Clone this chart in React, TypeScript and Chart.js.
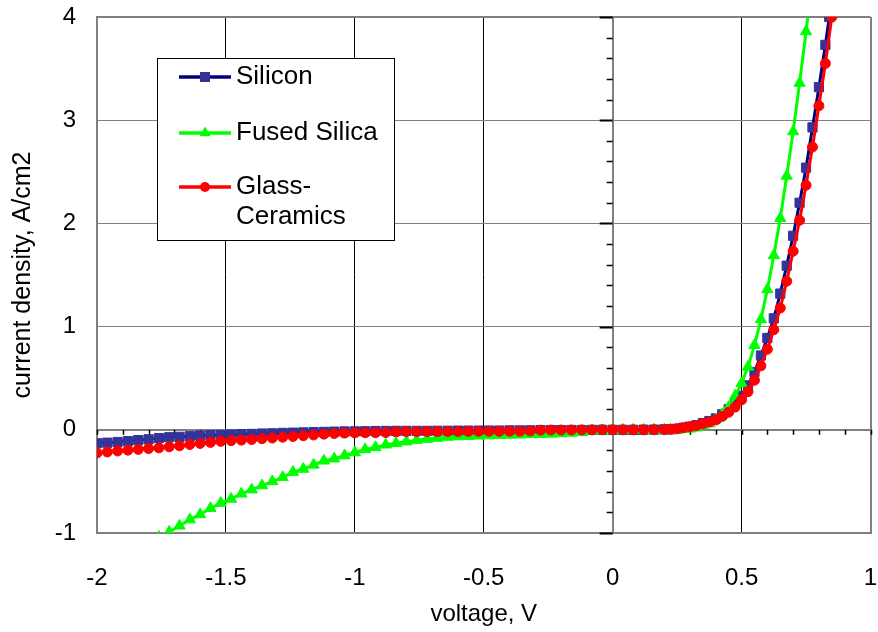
import React, { useEffect, useRef } from 'react';
import { Chart, registerables } from 'chart.js';

Chart.register(...registerables);

const FONT = "'Liberation Sans', Arial, Helvetica, sans-serif";

// ---- data ----
const sweepLow = [
  -2.0, -1.96, -1.92, -1.88, -1.84, -1.8, -1.76, -1.72, -1.68, -1.64,
  -1.6, -1.56, -1.52, -1.48, -1.44, -1.4, -1.36, -1.32, -1.28, -1.24,
  -1.2, -1.16, -1.12, -1.08, -1.04, -1.0, -0.96, -0.92, -0.88, -0.84,
  -0.8, -0.76, -0.72, -0.68, -0.64, -0.6, -0.56, -0.52, -0.48, -0.44,
  -0.4, -0.36, -0.32, -0.28, -0.24, -0.2, -0.16, -0.12, -0.08, -0.04,
  0.0, 0.04, 0.08, 0.12, 0.16, 0.2,
];

const siliconLow = [
  -0.13, -0.125, -0.118, -0.11, -0.1, -0.092, -0.08, -0.072, -0.068, -0.062,
  -0.056, -0.052, -0.05, -0.046, -0.042, -0.04, -0.036, -0.034, -0.03, -0.028,
  -0.025, -0.022, -0.02, -0.018, -0.016, -0.015, -0.014, -0.012, -0.011, -0.01,
  -0.01, -0.01, -0.01, -0.009, -0.009, -0.008, -0.008, -0.008, -0.007, -0.007,
  -0.006, -0.006, -0.005, -0.004, -0.003, -0.003, -0.002, -0.002, -0.001, 0,
  0, 0, 0, 0.001, 0.002, 0.004,
];

const fusedLow = [
  null, null, null, null, null, null, -1.04, -0.99, -0.93, -0.87,
  -0.82, -0.76, -0.71, -0.67, -0.62, -0.58, -0.54, -0.5, -0.46, -0.41,
  -0.38, -0.34, -0.3, -0.28, -0.25, -0.22, -0.19, -0.17, -0.145, -0.13,
  -0.115, -0.1, -0.09, -0.08, -0.07, -0.065, -0.062, -0.058, -0.056, -0.053,
  -0.05, -0.048, -0.045, -0.042, -0.04, -0.035, -0.03, -0.025, -0.01, -0.005,
  0, 0, 0, 0, 0, 0,
];

const glassLow = [
  -0.225, -0.215, -0.205, -0.197, -0.19, -0.182, -0.175, -0.165, -0.155, -0.143,
  -0.132, -0.122, -0.112, -0.105, -0.1, -0.094, -0.086, -0.08, -0.072, -0.065,
  -0.057, -0.05, -0.042, -0.036, -0.032, -0.029, -0.028, -0.028, -0.027, -0.02,
  -0.018, -0.018, -0.017, -0.017, -0.016, -0.016, -0.016, -0.015, -0.015, -0.015,
  -0.014, -0.014, -0.012, -0.003, -0.002, -0.002, -0.002, -0.001, -0.001, 0,
  0, 0, 0, 0, 0.001, 0.003,
];

const siliconHighV = [
  0.225, 0.25, 0.275, 0.3, 0.325, 0.35, 0.375, 0.4, 0.425, 0.45, 0.475, 0.5,
  0.525, 0.55, 0.575, 0.6, 0.625, 0.65, 0.675, 0.7, 0.725, 0.75, 0.775, 0.8,
  0.825, 0.84,
];
const siliconHigh = [
  0.005, 0.01, 0.02, 0.03, 0.045, 0.065, 0.085, 0.11, 0.15, 0.2, 0.26, 0.33,
  0.43, 0.56, 0.72, 0.89, 1.08, 1.32, 1.59, 1.88, 2.2, 2.54, 2.93, 3.32,
  3.73, 4.0,
];

const fusedHighV = [
  0.225, 0.25, 0.275, 0.3, 0.325, 0.35, 0.375, 0.4, 0.425, 0.45, 0.475, 0.5,
  0.525, 0.55, 0.575, 0.6, 0.625, 0.65, 0.675, 0.7, 0.725, 0.75, 0.757,
];
const fusedHigh = [
  0, 0, 0.005, 0.01, 0.02, 0.04, 0.06, 0.1, 0.15, 0.22, 0.33, 0.45,
  0.61, 0.82, 1.07, 1.36, 1.69, 2.05, 2.46, 2.89, 3.36, 3.86, 4.0,
];

const glassHighV = [
  0.225, 0.25, 0.275, 0.3, 0.325, 0.35, 0.375, 0.4, 0.425, 0.45, 0.475, 0.5,
  0.525, 0.55, 0.575, 0.6, 0.625, 0.65, 0.675, 0.7, 0.725, 0.75, 0.775, 0.8,
  0.825, 0.85,
];
const glassHigh = [
  0.005, 0.01, 0.02, 0.03, 0.04, 0.06, 0.075, 0.095, 0.13, 0.17, 0.22, 0.29,
  0.37, 0.48, 0.62, 0.78, 0.97, 1.18, 1.44, 1.73, 2.03, 2.37, 2.74, 3.14,
  3.55, 4.0,
];

const seriesNames = ['Silicon', 'Fused Silica', 'Glass-Ceramics'];
const legendLines = [['Silicon'], ['Fused Silica'], ['Glass-', 'Ceramics']];
const xTickLabels = ['-2', '-1.5', '-1', '-0.5', '0', '0.5', '1'];
const yTickLabels = ['-1', '0', '1', '2', '3', '4'];
const xAxisTitle = 'voltage, V';
const yAxisTitle = 'current density, A/cm2';

function toPoints(xs: number[], ys: (number | null)[]) {
  const out: { x: number; y: number }[] = [];
  xs.forEach((x, i) => {
    const y = ys[i];
    if (y !== null && y !== undefined) out.push({ x, y });
  });
  return out;
}

const siliconPts = [...toPoints(sweepLow, siliconLow), ...toPoints(siliconHighV, siliconHigh)];
const fusedPts = [...toPoints(sweepLow, fusedLow), ...toPoints(fusedHighV, fusedHigh)];
const glassPts = [...toPoints(sweepLow, glassLow), ...toPoints(glassHighV, glassHigh)];

const zeroAxisTicks = {
  id: 'zeroAxisTicks',
  beforeDatasetsDraw(chart: any) {
    const { ctx } = chart;
    const xs = chart.scales.x;
    const ys = chart.scales.y;
    const x0 = xs.getPixelForValue(0);
    const y0 = ys.getPixelForValue(0);
    ctx.save();
    ctx.strokeStyle = '#000';
    ctx.lineWidth = 1.5;
    for (let k = -20; k <= 10; k++) {
      const px = Math.round(xs.getPixelForValue(k / 10)) + 0.5;
      ctx.beginPath();
      ctx.moveTo(px, y0);
      ctx.lineTo(px, y0 + 5);
      ctx.stroke();
    }
    for (let k = -5; k <= 20; k++) {
      const py = Math.round(ys.getPixelForValue(k / 5)) + 0.5;
      const major = k % 5 === 0;
      ctx.lineWidth = major ? 2 : 1.5;
      ctx.beginPath();
      ctx.moveTo(x0 - (major ? 13 : 6), py);
      ctx.lineTo(x0, py);
      ctx.stroke();
    }
    ctx.restore();
  },
};

const boxLegend = {
  id: 'boxLegend',
  afterDraw(chart: any) {
    const { ctx } = chart;
    ctx.save();
    ctx.fillStyle = '#fff';
    ctx.fillRect(157.5, 58.5, 237, 182);
    ctx.strokeStyle = '#000';
    ctx.lineWidth = 1;
    ctx.strokeRect(157.5, 58.5, 237, 182);

    const rows = [
      { ly: 77, base: [84], line: '#000080', mark: '#333399', shape: 'rect' },
      { ly: 133, base: [139.5], line: '#00FF00', mark: '#00FF00', shape: 'tri' },
      { ly: 187, base: [194, 224], line: '#FF0000', mark: '#FF0000', shape: 'circ' },
    ];
    ctx.font = `26px ${FONT}`;
    ctx.textBaseline = 'alphabetic';
    ctx.textAlign = 'left';
    rows.forEach((r, i) => {
      ctx.strokeStyle = r.line;
      ctx.lineWidth = 3.5;
      ctx.beginPath();
      ctx.moveTo(179, r.ly);
      ctx.lineTo(231, r.ly);
      ctx.stroke();
      ctx.fillStyle = r.mark;
      ctx.beginPath();
      if (r.shape === 'rect') {
        ctx.rect(200, r.ly - 5, 10, 10);
      } else if (r.shape === 'tri') {
        ctx.moveTo(205, r.ly - 6.5);
        ctx.lineTo(210.6, r.ly + 3.3);
        ctx.lineTo(199.4, r.ly + 3.3);
        ctx.closePath();
      } else {
        ctx.arc(205, r.ly, 5, 0, Math.PI * 2);
      }
      ctx.fill();
      ctx.fillStyle = '#000';
      legendLines[i].forEach((t, j) => ctx.fillText(t, 236, r.base[j]));
    });
    ctx.restore();
  },
};

const zeroPad = (s: any) => {
  s.paddingTop = 0;
  s.paddingBottom = 0;
  s.paddingLeft = 0;
  s.paddingRight = 0;
};

export default function App() {
  const ref = useRef<HTMLCanvasElement>(null);

  useEffect(() => {
    const canvas = ref.current;
    if (!canvas) return;
    const edgeX = (v: number) => v === -2 || v === 1;
    const edgeY = (v: number) => v === -1 || v === 4;
    const chart = new Chart(canvas, {
      type: 'line',
      data: {
        datasets: [
          {
            label: seriesNames[0],
            data: siliconPts,
            borderColor: '#000080',
            borderWidth: 3,
            pointStyle: 'rect',
            pointRadius: 6.5,
            pointBackgroundColor: '#333399',
            pointBorderColor: '#333399',
            pointBorderWidth: 1,
            order: 3,
            tension: 0,
          },
          {
            label: seriesNames[1],
            data: fusedPts,
            borderColor: '#00FF00',
            borderWidth: 3,
            pointStyle: 'triangle',
            pointRadius: (c: any) => (c.dataIndex === fusedPts.length - 1 ? 0 : 6.5),
            pointBackgroundColor: '#00FF00',
            pointBorderColor: '#00FF00',
            pointBorderWidth: 1,
            order: 2,
            tension: 0,
          },
          {
            label: seriesNames[2],
            data: glassPts,
            borderColor: '#FF0000',
            borderWidth: 3,
            pointStyle: 'circle',
            pointRadius: 5,
            pointBackgroundColor: '#FF0000',
            pointBorderColor: '#FF0000',
            pointBorderWidth: 1,
            order: 1,
            tension: 0,
          },
        ],
      },
      options: {
        animation: false,
        responsive: false,
        devicePixelRatio: 1,
        layout: { padding: { top: 17, right: 6, left: 0, bottom: 0 } },
        plugins: {
          legend: { display: false },
          tooltip: { enabled: false },
        },
        scales: {
          x: {
            type: 'linear',
            min: -2,
            max: 1,
            ticks: {
              stepSize: 0.5,
              padding: 31,
              color: '#000',
              font: { family: FONT, size: 24 },
              maxRotation: 0,
              callback: (_v: any, i: number) => xTickLabels[i],
            },
            grid: {
              drawTicks: false,
              color: (c: any) => {
                const v = c.tick ? c.tick.value : 0;
                return v === 0 || edgeX(v) ? '#808080' : '#000000';
              },
              lineWidth: (c: any) => {
                const v = c.tick ? c.tick.value : 0;
                return v === 0 || edgeX(v) ? 2 : 1;
              },
            },
            border: { display: true, color: '#808080', width: 2 },
            title: {
              display: true,
              text: xAxisTitle,
              color: '#000',
              font: { family: FONT, size: 24 },
              padding: { top: 0, bottom: 3 },
            },
            afterFit: (s: any) => {
              s.height = 99;
              zeroPad(s);
            },
          },
          y: {
            type: 'linear',
            min: -1,
            max: 4,
            ticks: {
              stepSize: 1,
              padding: 21,
              color: '#000',
              font: { family: FONT, size: 24 },
              callback: (_v: any, i: number) => yTickLabels[i],
            },
            grid: {
              drawTicks: false,
              color: '#808080',
              lineWidth: (c: any) => {
                const v = c.tick ? c.tick.value : 0;
                return v === 0 || edgeY(v) ? 2 : 1;
              },
            },
            border: { display: true, color: '#808080', width: 2 },
            title: {
              display: true,
              text: yAxisTitle,
              color: '#000',
              font: { family: FONT, size: 25 },
              padding: { top: 8, bottom: 0 },
            },
            afterFit: (s: any) => {
              s.width = 97;
              zeroPad(s);
            },
          },
        },
      },
      plugins: [zeroAxisTicks, boxLegend],
    } as any);
    return () => chart.destroy();
  }, []);

  return (
    <div style={{ position: 'absolute', left: 0, top: 0, width: 878, height: 632, background: '#fff' }}>
      <canvas ref={ref} width={878} height={632} style={{ display: 'block' }} />
    </div>
  );
}
